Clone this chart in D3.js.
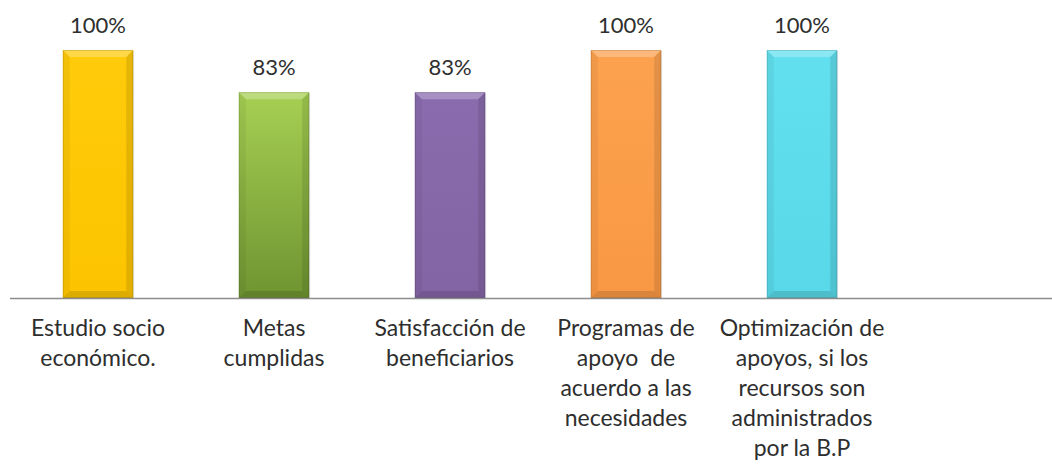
<!DOCTYPE html>
<html lang="es">
<head>
  <meta charset="utf-8">
  <title>Resultados</title>
  <script src="https://d3js.org/d3.v7.min.js"></script>
  <style>
    body { margin: 0; background: #fff; }
    text { font-family: Lato, "Liberation Sans", sans-serif; fill: #2e2e2e; }
  </style>
</head>
<body>
  <div id="chart"></div>

  <script>
    "use strict"

    // datos
    var categorias = [
      ["Estudio socio", "económico."],
      ["Metas", "cumplidas"],
      ["Satisfacción de", "beneficiarios"],
      ["Programas de", "apoyo  de", "acuerdo a las", "necesidades"],
      ["Optimización de", "apoyos, si los", "recursos son", "administrados", "por la B.P"]
    ];
    var valores = [100, 83, 83, 100, 100];
    var etiquetas = ["100%", "83%", "83%", "100%", "100%"];
    var colores = [
      ["#ffcb0a", "#fcc400"],
      ["#a6d053", "#6e9431"],
      ["#8a6cae", "#8264a4"],
      ["#fca24f", "#f99844"],
      ["#62e0ef", "#58d8e8"]
    ];

    var larguraSVG = 1052, alturaSVG = 465;
    var base = 298, topo = 50;

    var svg = d3.select('#chart')
      .append('svg')
        .attr('width', larguraSVG)
        .attr('height', alturaSVG);

    var ids = categorias.map((d, i) => i);

    var x = d3.scaleBand()
      .domain(ids)
      .range([10, 890])
      .paddingInner(0.6)
      .paddingOuter(0.3);

    var y = d3.scaleLinear()
      .domain([0, 100])
      .range([base, topo]);

    // gradientes
    var defs = svg.append('defs');
    colores.forEach(function (c, i) {
      var g = defs.append('linearGradient')
        .attr('id', 'grad' + i)
        .attr('x1', 0).attr('y1', 0).attr('x2', 0).attr('y2', 1);
      g.append('stop').attr('offset', '0%').attr('stop-color', c[0]);
      g.append('stop').attr('offset', '100%').attr('stop-color', c[1]);
    });

    var barras = svg.selectAll('g.barra')
      .data(valores)
      .enter()
      .append('g')
        .attr('class', 'barra');

    var bev = 7;

    barras.each(function (v, i) {
      var g = d3.select(this);
      var x0 = x(i), w = x.bandwidth(), y0 = y(v), h = base - y0;
      var x1 = x0 + w, y1 = base;

      // sombra
      g.append('rect')
        .attr('x', x0 + 1).attr('y', y0 + 1)
        .attr('width', w).attr('height', h)
        .style('fill', '#000').style('opacity', 0.1);

      g.append('rect')
        .attr('x', x0).attr('y', y0)
        .attr('width', w).attr('height', h)
        .style('fill', 'url(#grad' + i + ')');

      // bisel superior
      g.append('polygon')
        .attr('points', [[x0, y0], [x1, y0], [x1 - bev, y0 + bev], [x0 + bev, y0 + bev]].join(' '))
        .style('fill', '#fff').style('opacity', 0.25);
      // laterales
      g.append('polygon')
        .attr('points', [[x0, y0], [x0 + bev, y0 + bev], [x0 + bev, y1 - bev], [x0, y1]].join(' '))
        .style('fill', '#000').style('opacity', 0.05);
      g.append('polygon')
        .attr('points', [[x1, y0], [x1 - bev, y0 + bev], [x1 - bev, y1 - bev], [x1, y1]].join(' '))
        .style('fill', '#000').style('opacity', 0.1);
      // bisel inferior
      g.append('polygon')
        .attr('points', [[x0, y1], [x0 + bev, y1 - bev], [x1 - bev, y1 - bev], [x1, y1]].join(' '))
        .style('fill', '#000').style('opacity', 0.12);

      g.append('rect')
        .attr('x', x0 + 0.5).attr('y', y0 + 0.5)
        .attr('width', w - 1).attr('height', h - 1)
        .style('fill', 'none').style('stroke', '#000').style('stroke-opacity', 0.12);
    });

    // rotulos de valor
    svg.selectAll('text.valor')
      .data(valores)
      .enter()
      .append('text')
        .attr('class', 'valor')
        .attr('x', (d, i) => x(i) + x.bandwidth() / 2)
        .attr('y', d => y(d) - 17)
        .attr('text-anchor', 'middle')
        .style('font-size', '22px')
        .text((d, i) => etiquetas[i]);

    // eixo
    svg.append('line')
      .attr('x1', 10).attr('x2', larguraSVG)
      .attr('y1', base + 0.5).attr('y2', base + 0.5)
      .style('stroke', '#8c8c8c').style('stroke-width', 1.5);

    // rotulos de categoria
    var rot = svg.selectAll('text.cat')
      .data(categorias)
      .enter()
      .append('text')
        .attr('class', 'cat')
        .attr('text-anchor', 'middle')
        .style('font-size', '23px');

    rot.selectAll('tspan')
      .data((d, i) => d.map(l => ({ l: l, i: i })))
      .enter()
      .append('tspan')
        .attr('x', d => x(d.i) + x.bandwidth() / 2)
        .attr('y', (d, j) => 336 + j * 30)
        .style('white-space', 'pre')
        .text(d => d.l);
  </script>
</body>
</html>
